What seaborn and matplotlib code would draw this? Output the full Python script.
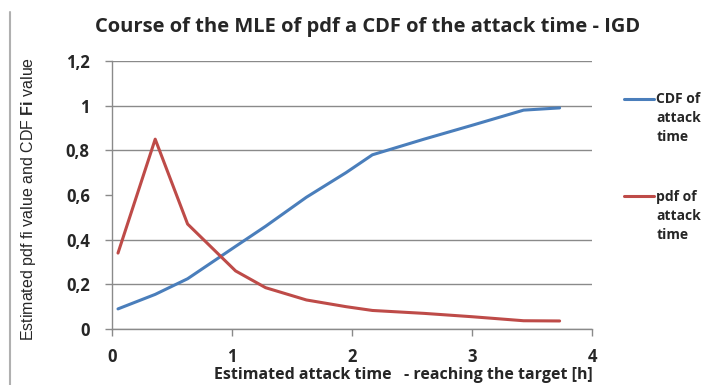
import seaborn as sns
import matplotlib.pyplot as plt
from matplotlib.ticker import FuncFormatter, MultipleLocator
from matplotlib.lines import Line2D
from matplotlib.legend_handler import HandlerLine2D
import numpy as np
import pandas as pd

# estimated attack time [h]
attack_time = [0.05, 0.36, 0.63, 1.03, 1.28, 1.62, 1.95, 2.17, 2.6, 3.0, 3.43, 3.73]
# CDF and pdf of attack time
cdf_values = [0.09, 0.155, 0.225, 0.37, 0.46, 0.59, 0.70, 0.78, 0.85, 0.912, 0.98, 0.99]
pdf_values = [0.34, 0.85, 0.47, 0.26, 0.185, 0.13, 0.10, 0.083, 0.07, 0.055, 0.037, 0.036]

cdf_label = "CDF of\nattack\ntime"
pdf_label = "pdf of\nattack\ntime"

df = pd.DataFrame({"t": attack_time, "cdf": cdf_values, "pdf": pdf_values})

# font size
fs = 11.5
leg_fs = 10
leg_ls = 1.45


class TopLine(HandlerLine2D):
    # put the legend line next to the first line of a multi-line label
    def create_artists(self, legend, orig_handle, xdescent, ydescent, width, height,
                       fontsize, trans):
        artists = super().create_artists(legend, orig_handle, xdescent, ydescent, width,
                                         height, fontsize, trans)
        for a in artists:
            a.set_ydata(np.asarray(a.get_ydata()) + fontsize * leg_ls)
        return artists


sns.set_style("white")
plt.rcParams['font.family'] = ['Open Sans', 'DejaVu Sans']
plt.rcParams['mathtext.fontset'] = 'custom'
plt.rcParams['mathtext.bf'] = 'Liberation Sans:bold'
plt.rcParams['mathtext.rm'] = 'Liberation Sans'

fig = plt.figure(figsize=[7.12, 3.85], dpi=100)
ax = fig.add_axes([112 / 712, 56 / 385, 480 / 712, 268 / 385])

sns.lineplot(data=df, x="t", y="cdf", ax=ax, color='#4A7EBB', linewidth=2.2,
             sort=False, estimator=None, label=cdf_label)
sns.lineplot(data=df, x="t", y="pdf", ax=ax, color='#BE4B48', linewidth=2.2,
             sort=False, estimator=None, label=pdf_label)

ax.set_xlim(0, 4)
ax.set_ylim(0, 1.2)
ax.xaxis.set_major_locator(MultipleLocator(1))
ax.yaxis.set_major_locator(MultipleLocator(0.2))
comma = FuncFormatter(lambda v, p: ("%g" % round(v, 1)).replace('.', ','))
ax.xaxis.set_major_formatter(comma)
ax.yaxis.set_major_formatter(comma)

ax.grid(axis='y', color='#8a8a8a', linewidth=1.0, zorder=0)
ax.grid(axis='x', visible=False)
# the 0,8 gridline is missing in the original
ax.yaxis.get_gridlines()[4].set_visible(False)

for s in ['top', 'right']:
    ax.spines[s].set_visible(False)
for s in ['left', 'bottom']:
    ax.spines[s].set_color('#8a8a8a')
    ax.spines[s].set_linewidth(1.0)

ax.tick_params(axis='both', direction='out', length=5, width=1, color='#8a8a8a',
               labelsize=12, left=True, bottom=True)
ax.tick_params(axis='y', pad=11)
ax.tick_params(axis='x', pad=9)
for t in ax.get_xticklabels() + ax.get_yticklabels():
    t.set_fontweight('bold')

ax.set_xlabel("Estimated attack time   - reaching the target [h]", fontsize=fs,
              fontweight='bold')
ax.xaxis.set_label_coords(0.606, -0.14)
ax.set_ylabel(r"Estimated pdf fi value and CDF $\mathbf{Fi}$ value", fontsize=11.5,
              family='Liberation Sans')
ax.yaxis.set_label_coords(-0.155, 0.485)

fig.suptitle("Course of the MLE of pdf a CDF of the attack time - IGD", fontsize=14.5,
             fontweight='bold', x=0.516, y=0.955)

leg = ax.legend(loc='upper left', bbox_to_anchor=(1.04, 0.93), frameon=False,
                fontsize=leg_fs, handlelength=2.2, handletextpad=0.15, labelspacing=3.3,
                handler_map={Line2D: TopLine()})
for t in leg.get_texts():
    t.set_fontweight('bold')
    t.set_linespacing(leg_ls)

# frame line on the left edge of the original picture
fig.add_artist(Line2D([10 / 712, 10 / 712], [0, 0.97], color='#b0b0b0', linewidth=1.5))

plt.savefig('out.png', dpi=100)
plt.close()
